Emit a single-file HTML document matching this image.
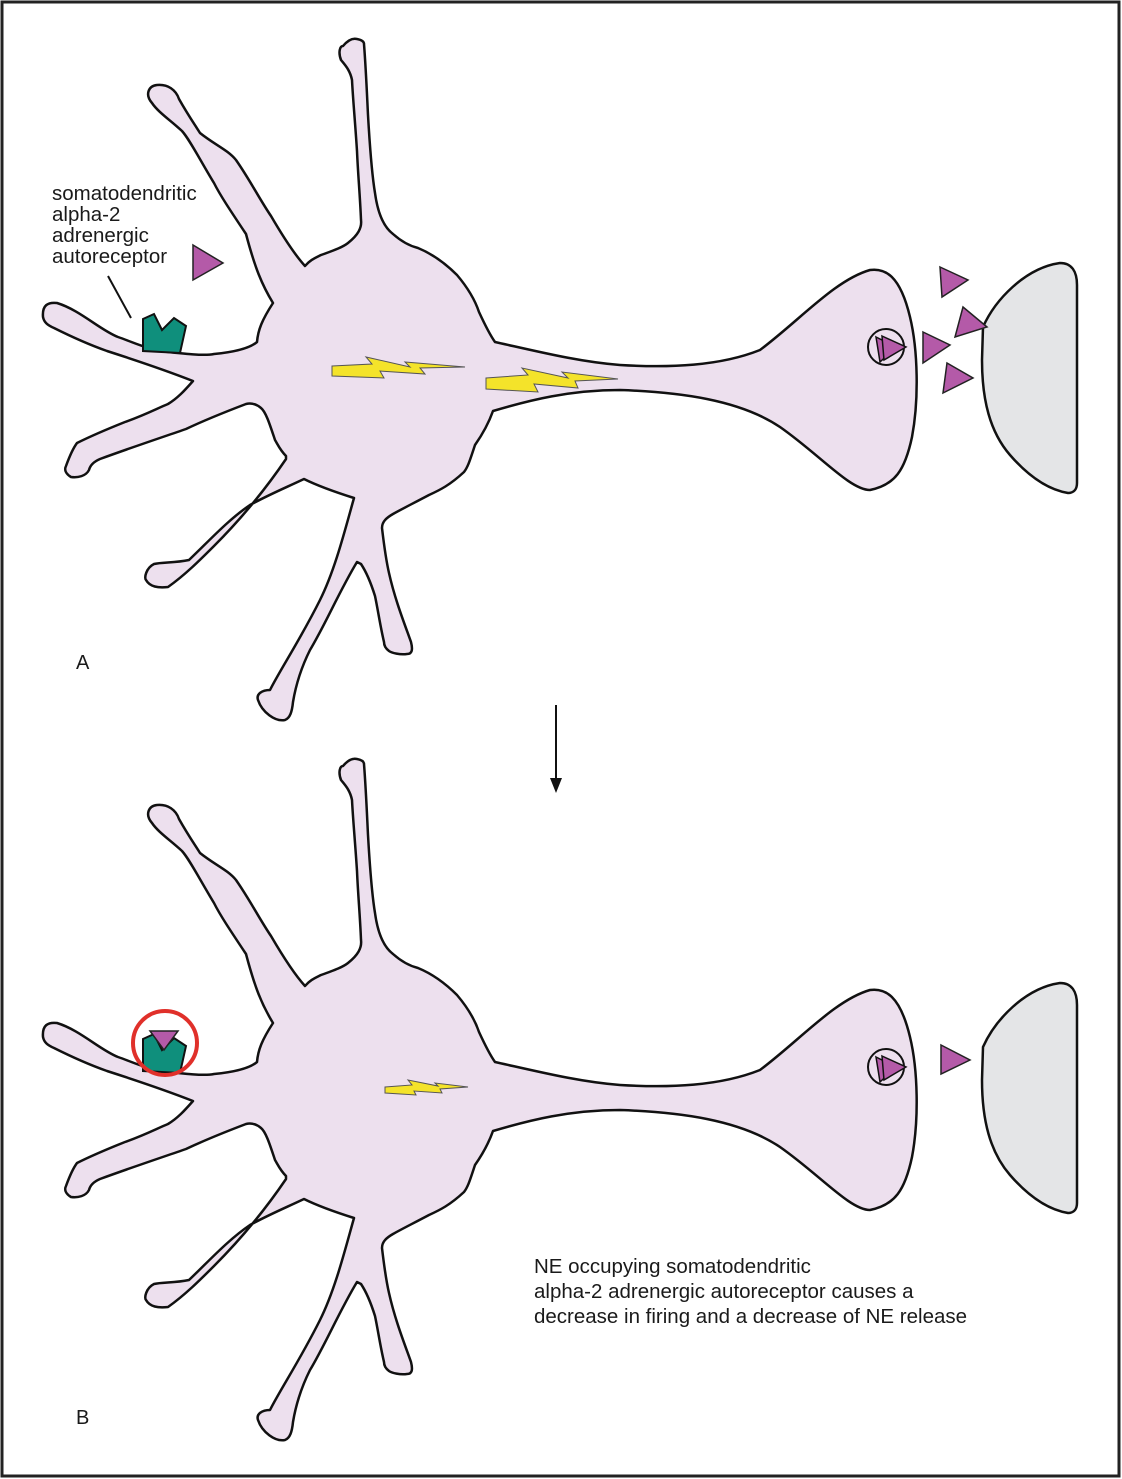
<!DOCTYPE html>
<html><head><style>
html,body{margin:0;padding:0;background:#fff}
svg{display:block}
text{font-family:"Liberation Sans",sans-serif;fill:#1a1a1a}
</style></head><body>
<svg width="1122" height="1479" viewBox="0 0 1122 1479" xmlns="http://www.w3.org/2000/svg">
<rect x="2" y="2" width="1117" height="1474" fill="#fff" stroke="#222" stroke-width="3"/>
<defs>
<g id="neuron">
<path d="M43,317 C42,305 48,302 57,303 C80,310 100,330 118,337 C135,343 145,348 160,351 C185,354 205,356 214,354 C235,352 250,348 257,342 C258,330 262,320 273,303 C262,285 255,268 246,234 C230,210 220,195 214,183 C200,160 190,140 182,131 C170,120 158,112 152,103 C145,95 148,86 157,85 C168,84 176,90 179,99 C188,115 195,125 200,133 C215,145 228,150 236,160 C250,180 260,200 271,216 C285,240 295,255 305,266 C310,260 315,258 321,255 C335,250 343,247 348,243 C358,235 362,228 361,220 C360,195 358,175 357,151 C355,120 353,100 352,80 C350,70 345,65 341,60 C338,52 340,46 343,46 C348,40 353,38 357,39 C362,40 364,42 364,44 C366,70 367,95 368,115 C370,150 372,175 375,193 C378,215 385,228 393,234 C402,242 410,246 418,248 C435,255 447,265 457,275 C468,288 475,300 479,312 C485,325 490,335 495,342 C540,352 580,362 620,365 C670,368 720,366 760,350 C800,320 835,280 870,270 C885,268 900,275 910,317 C918,350 919,400 912,437 C905,470 895,485 870,490 C850,490 820,455 780,427 C740,400 680,392 620,390 C570,390 530,400 493,411 C488,425 482,435 475,445 C470,460 468,467 464,472 C450,485 440,490 429,495 C410,505 400,510 393,514 C386,518 382,522 382,528 C384,545 386,560 389,573 C395,600 405,625 411,642 C413,650 412,654 407,654 C400,655 392,653 389,651 C385,648 384,645 384,642 C380,625 378,610 375,596 C370,580 365,570 361,564 L357,562 C340,590 325,625 310,650 C300,670 295,690 293,702 C292,712 290,718 285,720 C275,722 262,712 258,700 C256,694 262,690 270,690 C280,670 300,640 320,600 C335,570 345,530 354,498 C335,492 318,486 304,479 C285,488 268,495 250,505 C228,520 210,540 189,560 C175,563 162,562 154,564 C146,568 144,578 146,580 C150,587 158,588 168,587 C185,575 200,560 214,546 C240,520 265,490 286,459 L286,456 C280,450 278,445 275,440 C270,425 266,412 261,408 C255,403 250,403 246,404 C225,412 205,420 186,429 C160,438 130,448 100,459 C93,462 90,466 89,470 C86,476 78,478 71,477 C66,474 64,470 66,466 C70,455 74,447 77,443 C95,434 110,428 125,422 C145,415 158,408 168,404 C178,398 185,390 193,381 C165,370 135,360 107,351 C90,345 70,336 54,328 C47,325 44,322 43,317 Z" fill="#ede0ee" stroke="#111" stroke-width="2.5" stroke-linejoin="round"/>
<path d="M983,327 C995,300 1025,268 1060,263 C1072,263 1077,272 1077,285 L1077,483 C1077,490 1073,493 1068,493 C1050,490 1030,478 1010,455 C990,432 982,400 982,360 Z" fill="#e4e5e7" stroke="#111" stroke-width="2.5"/>
<circle cx="886" cy="347" r="18" fill="none" stroke="#111" stroke-width="2"/>
<polygon points="876,337 896,347 880,362" fill="#b45aa8" stroke="#111" stroke-width="1.5"/>
<polygon points="882,336 906,347 884,360" fill="#b45aa8" stroke="#111" stroke-width="1.5"/>
</g>
</defs>

<!-- Panel A -->
<use href="#neuron"/>
<polygon points="332,366 372,364 366,357 410,367 405,362 465,367 420,368 425,374 380,371 384,378 332,376" fill="#f4e32a" stroke="#555" stroke-width="1"/>
<polygon points="486,378 528,375 522,368 568,378 562,372 618,379 575,381 578,388 534,384 538,392 486,389" fill="#f4e32a" stroke="#555" stroke-width="1"/>
<polygon points="940,267 968,280 942,297" fill="#b45aa8" stroke="#222" stroke-width="1.5"/>
<polygon points="963,307 987,327 955,337" fill="#b45aa8" stroke="#222" stroke-width="1.5"/>
<polygon points="923,332 950,345 923,363" fill="#b45aa8" stroke="#222" stroke-width="1.5"/>
<polygon points="947,363 973,378 943,393" fill="#b45aa8" stroke="#222" stroke-width="1.5"/>
<polygon points="193,245 223,263 193,280" fill="#b45aa8" stroke="#222" stroke-width="1.5"/>
<polygon points="143,351 143,319 154,314 162,330 174,318 186,326 180,353" fill="#0f8f7c" stroke="#111" stroke-width="2"/>
<line x1="108" y1="276" x2="131" y2="318" stroke="#111" stroke-width="2"/>
<text x="52" y="200" font-size="20.5">somatodendritic</text>
<text x="52" y="221" font-size="20.5">alpha-2</text>
<text x="52" y="242" font-size="20.5">adrenergic</text>
<text x="52" y="263" font-size="20.5">autoreceptor</text>
<text x="76" y="669" font-size="20">A</text>

<!-- Arrow -->
<line x1="556" y1="705" x2="556" y2="780" stroke="#111" stroke-width="2"/>
<polygon points="550,778 562,778 556,793" fill="#111"/>

<!-- Panel B -->
<g transform="translate(0,720)">
<use href="#neuron"/>
<polygon points="385,367 412,365 408,360 438,366 435,363 468,367 440,369 442,373 414,371 416,375 385,373" fill="#f4e32a" stroke="#555" stroke-width="1"/>
<polygon points="941,325 970,340 941,354" fill="#b45aa8" stroke="#222" stroke-width="1.5"/>
<polygon points="143,351 143,319 154,314 162,330 174,318 186,326 180,353" fill="#0f8f7c" stroke="#111" stroke-width="2"/>
<polygon points="150,311 178,311 164,330" fill="#b45aa8" stroke="#222" stroke-width="1.5"/>
<circle cx="165" cy="323" r="32" fill="none" stroke="#e0302a" stroke-width="4"/>
</g>
<text x="534" y="1273" font-size="20.5">NE occupying somatodendritic</text>
<text x="534" y="1298" font-size="20.5">alpha-2 adrenergic autoreceptor causes a</text>
<text x="534" y="1323" font-size="20.5">decrease in firing and a decrease of NE release</text>
<text x="76" y="1424" font-size="20">B</text>
</svg>
</body></html>
